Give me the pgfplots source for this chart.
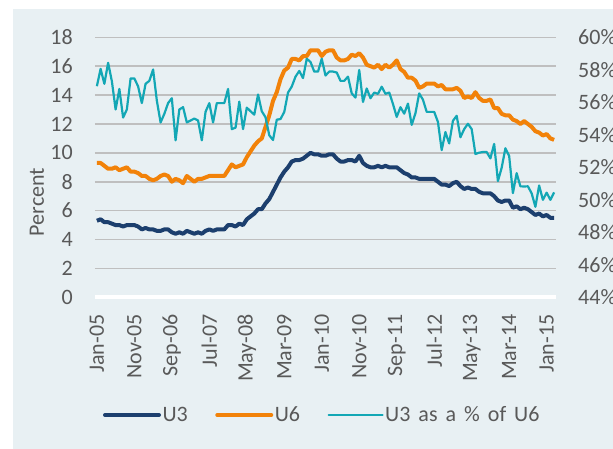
\documentclass[border=0pt]{standalone}
\usepackage{pgfplots}
\pgfplotsset{compat=1.18}
\usepackage{pgfplotstable}
\usepackage{fontspec}
\setmainfont{Carlito}
\definecolor{bg}{HTML}{E8F0F3}
\definecolor{gridc}{HTML}{BFBFBF}
\definecolor{labelc}{HTML}{595959}
\definecolor{navy}{HTML}{1C3F6E}
\definecolor{orng}{HTML}{F28209}
\definecolor{cyanc}{HTML}{13A7B5}

\pgfplotstableread{
m u3 u6 r
0 5.3 9.3 56.99
1 5.4 9.3 58.06
2 5.2 9.1 57.14
3 5.2 8.9 58.43
4 5.1 8.9 57.30
5 5.0 9.0 55.56
6 5.0 8.8 56.82
7 4.9 8.9 55.06
8 5.0 9.0 55.56
9 5.0 8.7 57.47
10 5.0 8.7 57.47
11 4.9 8.6 56.98
12 4.7 8.4 55.95
13 4.8 8.4 57.14
14 4.7 8.2 57.32
15 4.7 8.1 58.02
16 4.6 8.2 56.10
17 4.6 8.4 54.76
18 4.7 8.5 55.29
19 4.7 8.4 55.95
20 4.5 8.0 56.25
21 4.4 8.2 53.66
22 4.5 8.1 55.56
23 4.4 7.9 55.70
24 4.6 8.4 54.76
25 4.5 8.2 54.88
26 4.4 8.0 55.00
27 4.5 8.2 54.88
28 4.4 8.2 53.66
29 4.6 8.3 55.42
30 4.7 8.4 55.95
31 4.6 8.4 54.76
32 4.7 8.4 55.95
33 4.7 8.4 55.95
34 4.7 8.4 55.95
35 5.0 8.8 56.82
36 5.0 9.2 54.35
37 4.9 9.0 54.44
38 5.1 9.1 56.04
39 5.0 9.2 54.35
40 5.4 9.7 55.67
41 5.6 10.1 55.45
42 5.8 10.5 55.24
43 6.1 10.8 56.48
44 6.1 11.0 55.45
45 6.5 11.8 55.08
46 6.8 12.6 53.97
47 7.3 13.6 53.68
48 7.8 14.2 54.93
49 8.3 15.1 54.97
50 8.7 15.7 55.41
51 9.0 15.9 56.60
52 9.4 16.5 56.97
53 9.5 16.5 57.58
54 9.5 16.4 57.93
55 9.6 16.7 57.49
56 9.8 16.7 58.68
57 10.0 17.1 58.48
58 9.9 17.1 57.89
59 9.9 17.1 57.89
60 9.8 16.7 58.68
61 9.8 17.0 57.65
62 9.9 17.1 57.89
63 9.9 17.1 57.89
64 9.6 16.6 57.83
65 9.4 16.4 57.32
66 9.4 16.4 57.32
67 9.5 16.5 57.58
68 9.5 16.8 56.55
69 9.4 16.7 56.29
70 9.8 16.9 57.99
71 9.3 16.6 56.02
72 9.1 16.1 56.85
73 9.0 16.0 56.25
74 9.0 15.9 56.60
75 9.1 16.1 56.52
76 9.0 15.8 56.96
77 9.1 16.1 56.52
78 9.0 15.9 56.60
79 9.0 16.1 55.90
80 9.0 16.4 55.10
81 8.8 15.8 55.70
82 8.6 15.6 55.30
83 8.5 15.2 55.92
84 8.3 15.2 54.61
85 8.3 15.0 55.33
86 8.2 14.5 56.55
87 8.2 14.6 56.16
88 8.2 14.8 55.41
89 8.2 14.8 55.41
90 8.2 14.8 55.41
91 8.0 14.6 54.79
92 7.8 14.7 53.06
93 7.8 14.4 54.17
94 7.7 14.4 53.47
95 7.9 14.4 54.86
96 8.0 14.5 55.17
97 7.7 14.3 53.85
98 7.5 13.8 54.35
99 7.6 13.9 54.68
100 7.5 13.8 54.35
101 7.5 14.2 52.82
102 7.3 13.8 52.90
103 7.2 13.6 52.94
104 7.2 13.6 52.94
105 7.2 13.7 52.55
106 7.0 13.1 53.44
107 6.7 13.1 51.15
108 6.6 12.7 51.97
109 6.7 12.6 53.17
110 6.7 12.6 52.70
111 6.2 12.3 50.41
112 6.3 12.2 51.64
113 6.1 12.0 50.83
114 6.2 12.2 50.82
115 6.1 12.0 50.83
116 5.9 11.8 50.40
117 5.7 11.5 49.57
118 5.8 11.4 50.88
119 5.6 11.2 50.00
120 5.7 11.3 50.44
121 5.5 11.0 50.00
122 5.5 10.9 50.46
}\datatable

\begin{document}
\begin{tikzpicture}[x=1pt,y=1pt,font=\fontsize{22}{26}\selectfont]
\useasboundingbox (-95,-150.7) rectangle (518,297.3);
\fill[bg] (-82.2,-160) rectangle (530,288.7);
\begin{axis}[
  at={(0,0)}, anchor=south west,
  scale only axis, width=461pt, height=260pt,
  xmin=-0.5, xmax=122.5, ymin=0, ymax=18,
  /pgf/number format/assume math mode=true,
  axis line style={draw=none},
  major tick length=0pt,
  ytick={2,4,...,18},
  extra y ticks={0},
  extra y tick style={major grid style={white, line width=4pt}},
  ymajorgrids=true,
  major grid style={gridc, line width=1.6pt},
  xtick={0,10,...,120},
  xticklabels={Jan-05,Nov-05,Sep-06,Jul-07,May-08,Mar-09,Jan-10,Nov-10,Sep-11,Jul-12,May-13,Mar-14,Jan-15},
  ticklabel style={text=labelc, font=\fontsize{22}{26}\selectfont},
  yticklabel style={inner sep=0pt, anchor=east, xshift=-22pt},
  xticklabel style={yshift=-17pt, rotate=90, anchor=east, inner sep=0pt},
  ylabel={Percent},
  ylabel style={at={(axis description cs:-0.1258,0.366)}, anchor=center, text=labelc, font=\fontsize{22}{26}\selectfont},
]
\addplot[navy, line width=4pt, line join=round] table[x=m, y=u3] {\datatable};
\addplot[orng, line width=4pt, line join=round] table[x=m, y=u6] {\datatable};
\end{axis}
\begin{axis}[
  at={(0,0)}, anchor=south west,
  scale only axis, width=461pt, height=260pt,
  xmin=-0.5, xmax=122.5, ymin=44, ymax=60,
  /pgf/number format/assume math mode=true,
  hide x axis,
  axis y line*=right,
  y axis line style={draw=none},
  major tick length=0pt,
  ytick={44,46,...,60},
  yticklabel={\pgfmathprintnumber{\tick}\%},
  ticklabel style={text=labelc, font=\fontsize{22}{26}\selectfont},
  yticklabel style={inner sep=0pt, anchor=west, xshift=22pt},
  legend columns=3,
  legend style={at={(axis description cs:0.4924,-0.4527)}, anchor=center, draw=none, fill=none,
    text=labelc, font=\fontsize{22}{26}\selectfont,
    nodes={inner sep=1.5pt},
    /tikz/every even column/.append style={column sep=26pt}},
  legend image code/.code={\draw[#1, line cap=round] (0pt,0pt) -- (54pt,0pt);},
]
\addlegendimage{navy, line width=4pt}
\addlegendentry{U3}
\addlegendimage{orng, line width=4pt}
\addlegendentry{U6}
\addplot[cyanc, line width=2.2pt, line join=round] table[x=m, y=r] {\datatable};
\addlegendentry{U3\hspace{8pt}as\hspace{8pt}a\hspace{8pt}\%\hspace{8pt}of\hspace{8pt}U6}
\end{axis}
\end{tikzpicture}
\end{document}
